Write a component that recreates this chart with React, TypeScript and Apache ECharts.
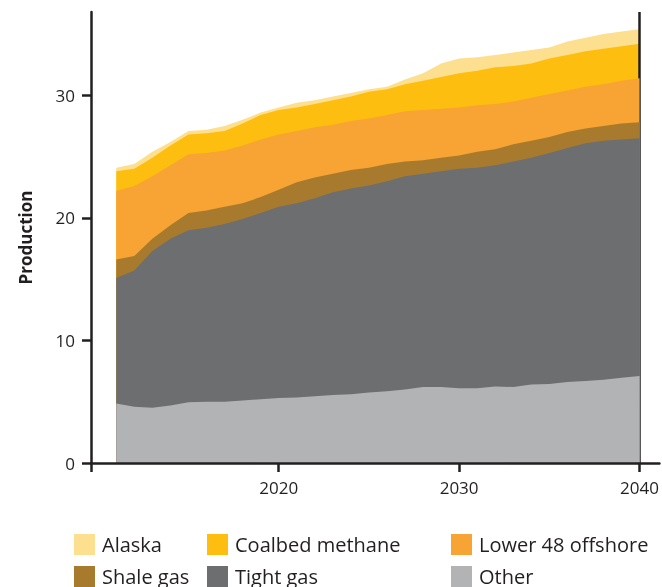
import React, { useEffect, useRef } from "react";
import * as echarts from "echarts";

const years = [2011, 2012, 2013, 2014, 2015, 2016, 2017, 2018, 2019, 2020, 2021, 2022, 2023, 2024, 2025, 2026, 2027, 2028, 2029, 2030, 2031, 2032, 2033, 2034, 2035, 2036, 2037, 2038, 2039, 2040];

const other = [4.85, 4.6, 4.5, 4.7, 4.95, 5.0, 5.0, 5.1, 5.2, 5.3, 5.35, 5.45, 5.55, 5.6, 5.75, 5.85, 6.0, 6.2, 6.2, 6.1, 6.1, 6.25, 6.2, 6.4, 6.45, 6.6, 6.7, 6.8, 6.95, 7.1];
const tightGas = [10.25, 11.1, 12.8, 13.6, 14.05, 14.2, 14.5, 14.8, 15.2, 15.6, 15.85, 16.15, 16.55, 16.8, 16.9, 17.15, 17.4, 17.4, 17.6, 17.9, 18.0, 18.05, 18.4, 18.5, 18.85, 19.1, 19.4, 19.5, 19.45, 19.4];
const shaleGas = [1.5, 1.2, 1.0, 1.1, 1.4, 1.4, 1.4, 1.3, 1.3, 1.4, 1.7, 1.7, 1.5, 1.5, 1.45, 1.4, 1.2, 1.1, 1.1, 1.1, 1.3, 1.3, 1.4, 1.4, 1.3, 1.3, 1.2, 1.2, 1.3, 1.3];
const lower48Offshore = [5.6, 5.7, 5.1, 4.9, 4.8, 4.7, 4.6, 4.7, 4.7, 4.5, 4.2, 4.1, 4.0, 4.0, 4.0, 4.0, 4.1, 4.1, 4.0, 3.9, 3.8, 3.7, 3.5, 3.5, 3.5, 3.4, 3.4, 3.4, 3.5, 3.6];
const coalbedMethane = [1.6, 1.4, 1.5, 1.6, 1.6, 1.6, 1.6, 1.8, 2.0, 2.0, 1.9, 1.9, 2.0, 2.0, 2.2, 2.1, 2.2, 2.4, 2.6, 2.8, 2.8, 3.0, 2.9, 2.8, 2.9, 2.9, 2.9, 2.9, 2.8, 2.8];
const alaska = [0.3, 0.4, 0.5, 0.3, 0.3, 0.3, 0.4, 0.3, 0.2, 0.2, 0.4, 0.3, 0.3, 0.3, 0.2, 0.2, 0.4, 0.6, 1.1, 1.2, 1.1, 1.0, 1.1, 1.1, 0.9, 1.1, 1.1, 1.2, 1.2, 1.2];

const xTicks = [2009.6, 2020, 2030, 2040];
const xLabels = [2020, 2030, 2040];
const yTicks = [0, 10, 20, 30];

const FONT = "'Open Sans', 'Noto Sans', sans-serif";
const INK = "#231f20";

// bottom to top
const seriesDefs = [
  { name: "Other", data: other, color: "#b2b3b5" },
  { name: "Tight gas", data: tightGas, color: "#6d6e70" },
  { name: "Shale gas", data: shaleGas, color: "#a87a2e" },
  { name: "Lower 48 offshore", data: lower48Offshore, color: "#f7a434" },
  { name: "Coalbed methane", data: coalbedMethane, color: "#fdbe10" },
  { name: "Alaska", data: alaska, color: "#fde08f" },
];

const legendPlaces: { name: string; left: number; top: number }[] = [
  { name: "Alaska", left: 74, top: 534 },
  { name: "Coalbed methane", left: 207, top: 534 },
  { name: "Lower 48 offshore", left: 451, top: 534 },
  { name: "Shale gas", left: 74, top: 566 },
  { name: "Tight gas", left: 207, top: 566 },
  { name: "Other", left: 451, top: 566 },
];

export default function App() {
  const ref = useRef<HTMLDivElement>(null);
  useEffect(() => {
    const chart = echarts.init(ref.current!, null, { renderer: "svg" });
    // running totals (stack) built from the named arrays
    const cum: number[][] = [];
    seriesDefs.forEach((s, i) => {
      cum.push(s.data.map((v, k) => +(v + (i > 0 ? cum[i - 1][k] : 0)).toFixed(3)));
    });
    const series: any[] = [];
    for (let i = seriesDefs.length - 1; i >= 0; i--) {
      const s = seriesDefs[i];
      series.push({
        name: s.name,
        type: "line",
        data: years.map((y, k) => [y, cum[i][k]]),
        itemStyle: { color: s.color },
        lineStyle: { width: 0, color: s.color },
        areaStyle: { color: s.color, opacity: 1 },
        showSymbol: false,
        symbol: "none",
        z: 2 + (seriesDefs.length - i),
      });
    }
    series.push({
      name: "guide",
      type: "line",
      data: [],
      showSymbol: false,
      markLine: {
        silent: true,
        symbol: "none",
        label: { show: false },
        lineStyle: { color: INK, width: 2.5, type: "solid" },
        data: [{ xAxis: 2040 }],
      },
      z: 20,
    });
    chart.setOption({
      animation: false,
      grid: { left: 91, right: 0, top: 12, bottom: 124, containLabel: false },
      xAxis: {
        type: "value",
        min: 2009.6,
        max: 2041.1,
        splitLine: { show: false },
        axisLine: { show: true, lineStyle: { color: INK, width: 2.5 } },
        axisTick: { show: true, length: 9, customValues: xTicks, lineStyle: { color: INK, width: 2.5 } },
        axisLabel: {
          customValues: xLabels,
          fontFamily: FONT,
          fontSize: 17,
          color: INK,
          margin: 16,
          formatter: (v: number) => String(v),
        },
        z: 30,
      },
      yAxis: {
        type: "value",
        min: 0,
        max: 36.8,
        name: "Production",
        nameLocation: "middle",
        nameGap: 57,
        nameTextStyle: { fontFamily: FONT, fontSize: 17, fontWeight: "bold", color: INK },
        splitLine: { show: false },
        axisLine: { show: true, lineStyle: { color: INK, width: 2.5 } },
        axisTick: { show: true, length: 9, customValues: yTicks, lineStyle: { color: INK, width: 2.5 } },
        axisLabel: {
          customValues: yTicks,
          fontFamily: FONT,
          fontSize: 17,
          color: INK,
          margin: 16,
        },
        z: 30,
      },
      legend: legendPlaces.map((p) => ({
        left: p.left,
        top: p.top,
        height: 40,
        padding: 0,
        itemWidth: 21,
        itemHeight: 21,
        icon: "rect",
        data: [p.name],
        selectedMode: false,
        itemStyle: { borderWidth: 0 },
        textStyle: { fontFamily: FONT, fontSize: 20, color: INK, padding: [0, 0, 0, 2] },
      })),
      series,
    });
    return () => chart.dispose();
  }, []);
  return (
    <div
      ref={ref}
      style={{ position: "fixed", left: 0, top: 0, width: 662, height: 587 }}
    />
  );
}
